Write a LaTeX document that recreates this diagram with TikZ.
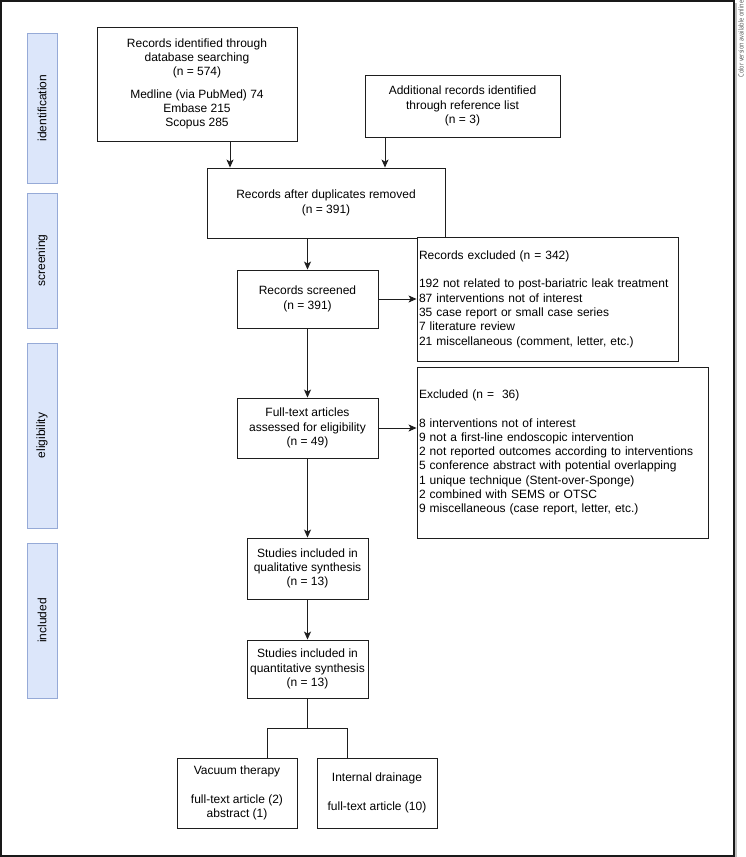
\documentclass[tikz,border=0pt]{standalone}
\usepackage{fontspec}
\usepackage{graphicx}
\setmainfont{Liberation Sans}
\newfontfamily\notefont{Open Sans}
\usetikzlibrary{arrows.meta,calc}
\definecolor{lblfill}{RGB}{220,230,250}
\definecolor{lbldraw}{RGB}{150,170,215}
\definecolor{edge}{RGB}{30,30,30}
\begin{document}
\begin{tikzpicture}[x=1pt,y=-1pt,
  every node/.style={font=\fontsize{12}{14.3}\selectfont, inner sep=0pt},
  box/.style={draw=edge, line width=0.9pt, fill=white, align=center},
  lbox/.style={draw=edge, line width=0.9pt, fill=white, align=left},
  lbl/.style={draw=lbldraw, fill=lblfill, line width=0.9pt, rotate=90, minimum height=30pt},
  arr/.style={draw=edge, line width=0.9pt, -{Stealth[length=8pt,width=7pt,inset=2pt]}},
  ln/.style={draw=edge, line width=0.9pt}]
\useasboundingbox (0,0) rectangle (746,857);
\draw[line width=1.2pt, black!25] (736,3) -- (736,857);
\draw[line width=1.5pt, black!90] (1,1) rectangle (734,856);
\node[rotate=90, anchor=east, text=black!70, font=\notefont\fontsize{7}{8}\selectfont] (note) at (741,0.5) {\scalebox{0.8}[1]{Color version available online}};

% phase labels
\node[lbl, minimum width=150pt] (lid) at (42,108) {identification};
\node[lbl, minimum width=135pt] (lsc) at (42,260.5) {screening};
\node[lbl, minimum width=185pt] (lel) at (42,435.5) {eligibility};
\node[lbl, minimum width=155pt] (lin) at (42,620.5) {included};

% boxes
\node[box, minimum width=200pt, minimum height=114pt] (b1) at (197,84)
  {Records identified through\\database searching\\(n = 574)\\[8pt]Medline (via PubMed) 74\\Embase 215\\Scopus 285};
\node[box, minimum width=195pt, minimum height=62pt] (b2) at (462.5,106)
  {Additional records identified\\through reference list\\(n = 3)};
\node[box, minimum width=238pt, minimum height=70pt] (b3) at (326,203)
  {Records after duplicates removed\\(n = 391)};
\node[box, minimum width=141pt, minimum height=58pt] (scr) at (307.5,299)
  {Records screened\\(n = 391)};
\node[lbox, minimum width=261pt, minimum height=124pt, text width=257pt] (ex1) at (547.5,299)
  {Records excluded (n = 342)\\[14.3pt]192 not related to post-bariatric leak treatment\\87 interventions not of interest\\35 case report or small case series\\7 literature review\\21 miscellaneous (comment, letter, etc.)};
\node[box, minimum width=141pt, minimum height=60pt] (ft) at (307.5,428)
  {Full-text articles\\assessed for eligibility\\(n = 49)};
\node[lbox, minimum width=291pt, minimum height=171pt, text width=287pt] (ex2) at (562.5,452.5)
  {Excluded (n = \ 36)\\[14.3pt]8 interventions not of interest\\9 not a first-line endoscopic intervention\\2 not reported outcomes according to interventions\\5 conference abstract with potential overlapping\\1 unique technique (Stent-over-Sponge)\\2 combined with SEMS or OTSC\\9 miscellaneous (case report, letter, etc.)};
\node[box, minimum width=121pt, minimum height=61pt] (qual) at (307.5,568.5)
  {Studies included in\\qualitative synthesis\\(n = 13)};
\node[box, minimum width=121pt, minimum height=58pt] (quan) at (307.5,669)
  {Studies included in\\quantitative synthesis\\(n = 13)};
\node[box, minimum width=120pt, minimum height=70pt] (vac) at (237,793)
  {Vacuum therapy\\[14.3pt]full-text article (2)\\abstract (1)};
\node[box, minimum width=120pt, minimum height=70pt] (int) at (377,793)
  {Internal drainage\\[14.3pt]full-text article (10)};

% connectors
\coordinate (xa) at (230,0);
\coordinate (xb) at (385,0);
\coordinate (jl) at (267,728);
\coordinate (jr) at (347,728);
\draw[arr] (b1.south -| xa) -- (b3.north -| xa);
\draw[arr] (b2.south -| xb) -- (b3.north -| xb);
\draw[arr] (b3.south -| scr.north) -- (scr.north);
\draw[arr] (scr.east) -- (ex1.west |- scr.east);
\draw[arr] (scr.south) -- (ft.north);
\draw[arr] (ft.east) -- (ex2.west |- ft.east);
\draw[arr] (ft.south) -- (qual.north);
\draw[arr] (qual.south) -- (quan.north);
\draw[ln] (quan.south) -- (quan.south |- jl);
\draw[ln] (vac.north -| jl) -- (jl) -- (jr) -- (int.north -| jr);
\end{tikzpicture}
\end{document}
